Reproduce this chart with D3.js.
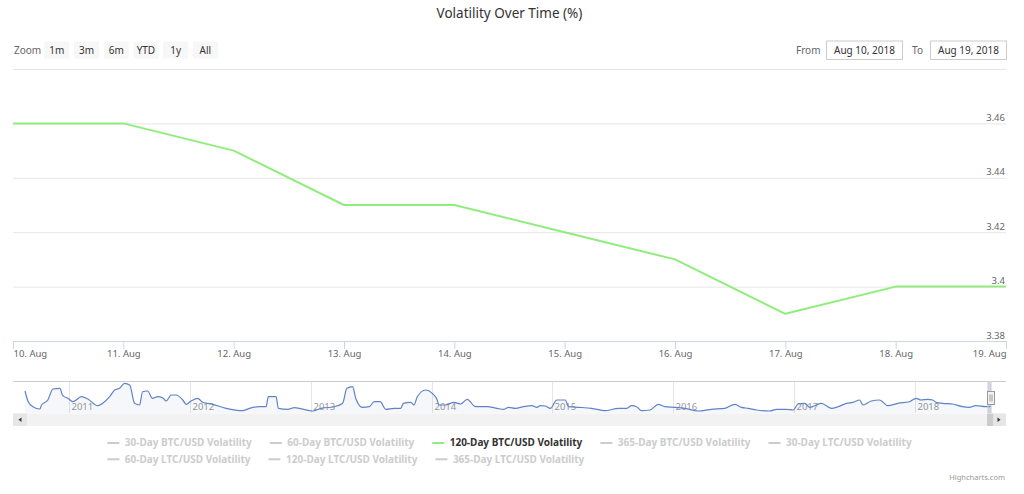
<!DOCTYPE html>
<html>
<head>
<meta charset="utf-8">
<script src="https://cdn.jsdelivr.net/npm/d3@7"></script>
<style>
  html, body { margin: 0; padding: 0; background: #fff; }
  svg { display: block; font-family: "Noto Sans", "Open Sans", sans-serif; }
</style>
</head>
<body>
<svg id="chart" width="1024" height="494"></svg>
<script>
// ---------------- DATA ----------------
const title = "Volatility Over Time (%)";
const dates = ["2018-08-10","2018-08-11","2018-08-12","2018-08-13","2018-08-14",
               "2018-08-15","2018-08-16","2018-08-17","2018-08-18","2018-08-19"];
const vol120BTC = [3.46, 3.46, 3.45, 3.43, 3.43, 3.42, 3.41, 3.39, 3.40, 3.40];
const yTicks = [3.38, 3.40, 3.42, 3.44, 3.46, 3.48];
const yTickLabels = ["3.38", "3.4", "3.42", "3.44", "3.46", ""];
const zoomButtons = ["1m", "3m", "6m", "YTD", "1y", "All"];
const rangeFrom = "Aug 10, 2018";
const rangeTo = "Aug 19, 2018";
const legendNames = ["30-Day BTC/USD Volatility", "60-Day BTC/USD Volatility", "120-Day BTC/USD Volatility",
  "365-Day BTC/USD Volatility", "30-Day LTC/USD Volatility", "60-Day LTC/USD Volatility",
  "120-Day LTC/USD Volatility", "365-Day LTC/USD Volatility"];
const legendActive = [false, false, true, false, false, false, false, false];
const navYearTicks = [2011, 2012, 2013, 2014, 2015, 2016, 2017, 2018];
// navigator (full history of the 120-Day BTC/USD volatility), time as decimal year
const navYears = [2010.633,2010.660,2010.699,2010.756,2010.770,2010.822,2010.864,2010.922,2010.946,2010.988,
  2011.029,2011.101,2011.153,2011.235,2011.277,2011.334,2011.376,2011.417,2011.458,2011.500,
  2011.541,2011.582,2011.607,2011.648,2011.690,2011.731,2011.772,2011.803,2011.844,2011.885,
  2011.940,2011.968,2012.009,2012.064,2012.105,2012.187,2012.298,2012.435,2012.491,2012.573,
  2012.628,2012.647,2012.711,2012.730,2012.807,2012.862,2012.903,2013.013,2013.083,2013.192,
  2013.261,2013.297,2013.344,2013.372,2013.426,2013.481,2013.523,2013.572,2013.619,2013.688,
  2013.743,2013.765,2013.826,2013.853,2013.880,2013.950,2014.004,2014.045,2014.059,2014.115,
  2014.183,2014.239,2014.293,2014.363,2014.458,2014.541,2014.596,2014.638,2014.693,2014.761,
  2014.830,2014.871,2014.899,2014.941,2014.982,2015.036,2015.106,2015.133,2015.216,2015.325,
  2015.436,2015.546,2015.614,2015.656,2015.697,2015.738,2015.808,2015.876,2015.931,2016.014,
  2016.097,2016.206,2016.316,2016.427,2016.510,2016.564,2016.619,2016.688,2016.798,2016.853,
  2016.936,2016.991,2017.032,2017.088,2017.129,2017.170,2017.225,2017.308,2017.363,2017.431,
  2017.487,2017.542,2017.569,2017.638,2017.707,2017.776,2017.858,2017.955,2018.009,2018.050,
  2018.106,2018.147,2018.174,2018.229,2018.311,2018.394,2018.450,2018.504,2018.587,2018.630];
const navValues = [8.83,5.08,3.33,2.53,3.93,5.68,9.53,9.77,7.18,6.27,
  5.08,6.83,6.03,3.68,4.52,6.83,9.18,9.77,11.52,10.93,
  4.52,3.93,8.58,8.83,6.27,6.83,6.48,5.33,7.43,7.43,
  5.68,4.17,5.33,6.27,4.87,4.17,2.77,1.93,2.77,3.33,
  3.33,6.83,6.83,2.77,2.42,2.98,2.77,1.83,2.77,3.33,
  4.52,9.77,10.33,6.03,3.12,3.33,5.08,5.08,2.42,2.77,
  2.77,4.52,4.87,3.93,6.83,9.18,8.02,5.68,3.93,3.93,
  4.87,4.28,5.92,3.33,3.33,2.77,2.42,3.12,2.77,3.33,
  3.68,3.12,3.68,3.58,2.77,5.68,5.68,3.33,3.12,2.77,
  1.93,2.77,2.77,3.68,3.33,1.93,2.18,4.17,3.33,3.12,
  2.77,1.83,2.42,2.77,4.17,3.12,2.77,2.18,1.83,2.42,
  2.42,2.18,4.28,4.52,3.12,3.68,4.52,2.77,3.33,4.52,
  4.87,5.68,3.93,5.33,5.68,3.68,4.52,5.08,6.27,5.68,
  5.92,5.68,4.87,4.52,4.28,3.33,3.12,3.68,3.33,3.40];

// ---------------- HELPERS ----------------
const parse = d3.timeParse("%Y-%m-%d");
function yearToDate(t) {
  const y = Math.floor(t);
  const s = new Date(y, 0, 1), e = new Date(y + 1, 0, 1);
  return new Date(+s + (t - y) * (e - s));
}
const FONT = '"Noto Sans", "Open Sans", sans-serif';

// ---------------- LAYOUT ----------------
const W = 1024, H = 494;
const plot = { left: 13, right: 1006, top: 69, bottom: 341 };
const nav = { top: 381, bottom: 413, lineTop: 383.3, lineBottom: 411, dataLeft: 25, dataRight: 991 };
const svg = d3.select("#chart");

// Title
svg.append("text").attr("x", 509.5).attr("y", 18).attr("text-anchor", "middle")
  .attr("font-size", 13.5).attr("fill", "#333").text(title);

// Range selector
svg.append("text").attr("x", 14).attr("y", 53.5).attr("font-size", 10).attr("fill", "#666").text("Zoom");
const btnG = svg.append("g");
zoomButtons.forEach((b, i) => {
  const x0 = 44.3 + i * 29.7;
  btnG.append("rect").attr("x", x0).attr("y", 41.5).attr("width", 25).attr("height", 17)
    .attr("fill", "#f7f7f7");
  btnG.append("text").attr("x", x0 + 12.5).attr("y", 53.5).attr("text-anchor", "middle")
    .attr("font-size", 10).attr("fill", "#333").text(b);
});
svg.append("text").attr("x", 820.5).attr("y", 53.5).attr("text-anchor", "end")
  .attr("font-size", 10).attr("fill", "#666").text("From");
svg.append("text").attr("x", 923).attr("y", 53.5).attr("text-anchor", "end")
  .attr("font-size", 10).attr("fill", "#666").text("To");
[[826, rangeFrom], [930, rangeTo]].forEach(([x0, t]) => {
  svg.append("rect").attr("x", x0 + 0.5).attr("y", 41).attr("width", 76).attr("height", 18.5)
    .attr("fill", "#fff").attr("stroke", "#ccc").attr("stroke-width", 1);
  svg.append("text").attr("x", x0 + 38.5).attr("y", 53.5).attr("text-anchor", "middle")
    .attr("font-size", 10).attr("fill", "#333").text(t);
});

// Scales
const x = d3.scaleTime().domain(d3.extent(dates, parse)).range([plot.left, plot.right]);
const y = d3.scaleLinear().domain([d3.min(yTicks), d3.max(yTicks)]).range([plot.bottom, plot.top]);

// Y axis (grid + labels inside on the right)
const yAxis = d3.axisLeft(y).tickValues(yTicks)
  .tickSize(plot.right - plot.left)
  .tickFormat((d, i) => yTickLabels[i]);
const yg = svg.append("g").attr("transform", `translate(${plot.right},0)`).call(yAxis);
yg.select(".domain").remove();
yg.selectAll(".tick line").attr("stroke", "#e6e6e6").attr("stroke-width", 1);
yg.selectAll(".tick text").attr("x", -1).attr("dy", -3).attr("text-anchor", "end")
  .attr("font-family", FONT).attr("font-size", 9.5).attr("fill", "#666");

// X axis
const xAxis = d3.axisBottom(x).tickValues(dates.map(parse)).tickSize(8).tickPadding(3)
  .tickFormat(d3.timeFormat("%-d. %b"));
const xg = svg.append("g").attr("transform", `translate(0,${plot.bottom})`).call(xAxis);
xg.select(".domain").attr("stroke", "#ccd6eb").attr("d", `M${plot.left},0.5H${plot.right}`);
xg.selectAll(".tick line").attr("stroke", "#ccd6eb");
xg.selectAll(".tick text").attr("font-family", FONT).attr("font-size", 9.5).attr("fill", "#666")
  .attr("dy", "0.5em").attr("y", 11);
const xt = xg.selectAll(".tick text").nodes();
d3.select(xt[0]).attr("text-anchor", "start");
d3.select(xt[xt.length - 1]).attr("text-anchor", "end");

// Main series
const mainData = dates.map((d, i) => ({ date: parse(d), v: vol120BTC[i] }));
svg.append("path").datum(mainData)
  .attr("fill", "none").attr("stroke", "#90ed7d").attr("stroke-width", 2)
  .attr("stroke-linejoin", "round")
  .attr("d", d3.line().x(d => x(d.date)).y(d => y(d.v)));

// ---------------- NAVIGATOR ----------------
const navData = navYears.map((t, i) => ({ date: yearToDate(t), v: navValues[i] }))
  .filter(d => d.v !== undefined);
const xn = d3.scaleTime().domain(d3.extent(navData, d => d.date)).range([nav.dataLeft, nav.dataRight]);
const yn = d3.scaleLinear().domain(d3.extent(navData, d => d.v)).range([nav.lineBottom, nav.lineTop]);

const ng = svg.append("g");
// year grid lines + labels
navYearTicks.forEach(yr => {
  const px = Math.round(xn(new Date(yr, 0, 1))) + 0.5;
  ng.append("line").attr("x1", px).attr("x2", px).attr("y1", nav.top).attr("y2", nav.bottom)
    .attr("stroke", "#e6e6e6");
  ng.append("text").attr("x", px + 2).attr("y", 410).attr("font-size", 9.5).attr("fill", "#999").text(yr);
});
ng.append("path").datum(navData)
  .attr("fill", "rgba(51,92,173,0.05)")
  .attr("d", d3.area().curve(d3.curveMonotoneX).x(d => xn(d.date)).y0(nav.bottom).y1(d => yn(d.v)));
ng.append("path").datum(navData)
  .attr("fill", "none").attr("stroke", "#5f82c8").attr("stroke-width", 1.2)
  .attr("d", d3.line().curve(d3.curveMonotoneX).x(d => xn(d.date)).y(d => yn(d.v)));

// selection mask
const selL = xn(parse(dates[0])), selR = xn(parse(dates[dates.length - 1]));
ng.append("rect").attr("x", selL).attr("y", nav.top).attr("width", Math.max(2, selR - selL))
  .attr("height", nav.bottom - nav.top).attr("fill", "rgba(102,133,194,0.3)");
// outline
ng.append("path").attr("fill", "none").attr("stroke", "#cccccc").attr("stroke-width", 1)
  .attr("d", `M${plot.left},${nav.top + 0.5}H${selL}V${nav.bottom}M${selR},${nav.bottom}V${nav.top + 0.5}H${plot.right}`);
// handle
const hx = Math.round(selR) - 3.5;
ng.append("rect").attr("x", hx).attr("y", 391.5).attr("width", 7).attr("height", 13)
  .attr("fill", "#f2f2f2").attr("stroke", "#999");
[hx + 2.5, hx + 4.5].forEach(lx => ng.append("line").attr("x1", lx).attr("x2", lx)
  .attr("y1", 394.5).attr("y2", 401.5).attr("stroke", "#999"));

// scrollbar
const sb = svg.append("g");
sb.append("rect").attr("x", plot.left).attr("y", 413.5).attr("width", plot.right - plot.left).attr("height", 12.5)
  .attr("fill", "#f2f2f2");
sb.append("rect").attr("x", plot.left).attr("y", 413.5).attr("width", 14).attr("height", 12.5).attr("fill", "#e6e6e6");
sb.append("rect").attr("x", plot.right - 14).attr("y", 413.5).attr("width", 14).attr("height", 12.5).attr("fill", "#e6e6e6");
sb.append("rect").attr("x", plot.right - 19).attr("y", 413.5).attr("width", 6).attr("height", 12.5).attr("fill", "#cccccc");
sb.append("path").attr("fill", "#333").attr("d", `M${plot.left + 5.5},419.7L${plot.left + 8.5},417.5V422Z`);
sb.append("path").attr("fill", "#333").attr("d", `M${plot.right - 5.5},419.7L${plot.right - 8.5},417.5V422Z`);

// ---------------- LEGEND ----------------
const lg = svg.append("g").attr("font-size", 10).attr("font-weight", "bold");
const symW = 12, symGap = 5.5, itemDist = 18, maxRowW = 930;
const items = legendNames.map((name, i) => {
  const g = lg.append("g");
  const color = legendActive[i] ? "#90ed7d" : "#cccccc";
  g.append("line").attr("x1", 0).attr("x2", symW).attr("y1", 0).attr("y2", 0)
    .attr("stroke", color).attr("stroke-width", 2);
  const t = g.append("text").attr("x", symW + symGap).attr("y", 3.3)
    .attr("fill", legendActive[i] ? "#333" : "#cccccc").text(name);
  return { g, w: symW + symGap + t.node().getComputedTextLength() };
});
const rows = [[]];
let cur = 0;
items.forEach(it => {
  if (cur > 0 && cur + it.w > maxRowW) { rows.push([]); cur = 0; }
  rows[rows.length - 1].push(it);
  cur += it.w + itemDist;
});
const rowW = rows.map(r => d3.sum(r, d => d.w) + itemDist * (r.length - 1));
const lx0 = (plot.left + plot.right) / 2 - d3.max(rowW) / 2;
rows.forEach((r, ri) => {
  let cx = lx0;
  r.forEach(it => {
    it.g.attr("transform", `translate(${cx},${443 + ri * 16.3})`);
    cx += it.w + itemDist;
  });
});

// credits
svg.append("text").attr("x", 1005).attr("y", 480).attr("text-anchor", "end")
  .attr("font-size", 7.5).attr("fill", "#999").text("Highcharts.com");
</script>
</body>
</html>
